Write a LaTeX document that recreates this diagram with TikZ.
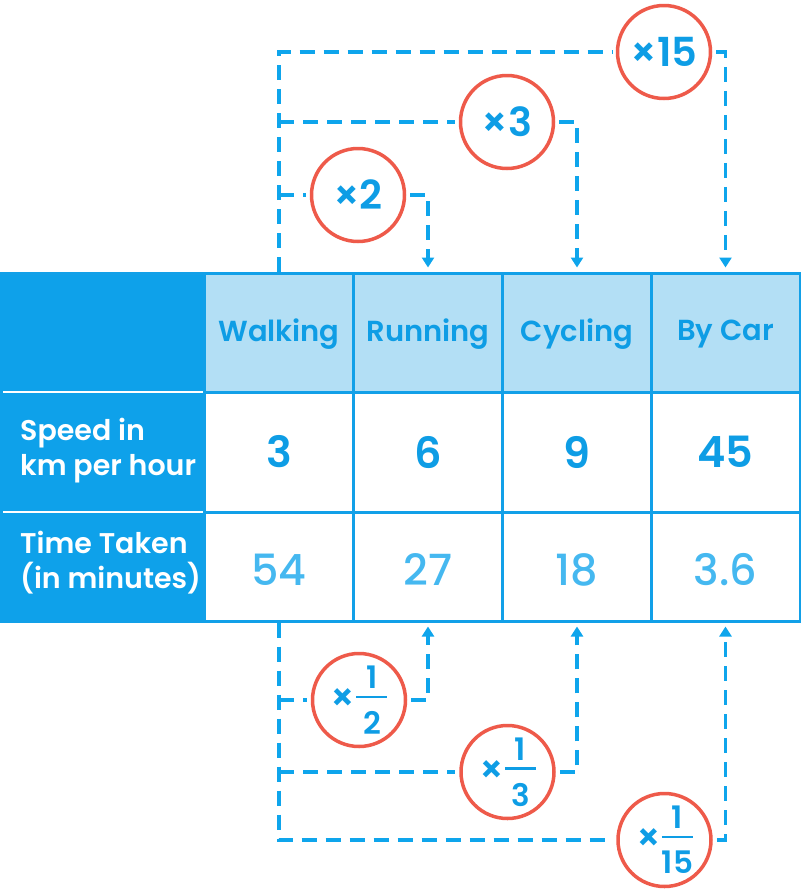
\documentclass[tikz,border=0pt]{standalone}
\usepackage{fontspec}
\setmainfont{Poppins}[BoldFont={* SemiBold}]
\newfontfamily\medfont{Poppins Medium}
\usetikzlibrary{arrows.meta}
\definecolor{darkcol}{HTML}{0EA1EA}
\definecolor{headfill}{HTML}{B3DFF5}
\definecolor{gridblue}{HTML}{12A0E8}
\definecolor{dashblue}{HTML}{0EA5EC}
\definecolor{numblue}{HTML}{0E9DE5}
\definecolor{timeblue}{HTML}{45B8F0}
\definecolor{circred}{HTML}{EE5A4A}
\newcommand\myfr[2]{$\vcenter{\offinterlineskip\halign{\hbox to 31pt{\hfil##\hfil}\cr\rule{0pt}{22pt}#1\cr\noalign{\kern7pt{\color{numblue}\hrule height 2.5pt}\kern13pt}\rule{0pt}{21pt}#2\cr}}$}
\newcommand\mysm{$\vcenter{\hbox{\fontsize{37}{37}\selectfont ×}}$\kern1pt}
\newcommand\shiftdn[2]{\raisebox{-#1}[\height][\depth]{#2}}
\begin{document}
\begin{tikzpicture}[x=1pt,y=-1pt,
  cellH/.style={draw=gridblue,line width=3pt,fill=headfill,minimum width=149pt,minimum height=119pt,inner sep=0pt,text=numblue,font=\bfseries\fontsize{29}{29}\selectfont},
  cellS/.style={draw=gridblue,line width=3pt,minimum width=149pt,minimum height=120pt,inner sep=0pt,text=numblue,font=\bfseries\fontsize{43}{43}\selectfont},
  cellT/.style={draw=gridblue,line width=3pt,minimum width=149pt,minimum height=109pt,inner sep=0pt,text=timeblue,font=\medfont\fontsize{43}{43}\selectfont},
  rowlabel/.style={anchor=west,inner sep=0pt,text=white,align=left,font=\bfseries\fontsize{28.5}{35}\selectfont},
  circ/.style={circle,draw=circred,line width=3.5pt,minimum size=93pt,inner sep=0pt,text=numblue,font=\bfseries\fontsize{40}{40}\selectfont},
  fcirc/.style={circ,font=\bfseries\fontsize{31}{31}\selectfont},
  dashline/.style={draw=dashblue,line width=3.3pt,dash pattern=on 15pt off 9pt},
  arr/.style={-{Triangle[width=12pt,length=10pt]},shorten >=4pt},
  gap/.style={shorten <=4pt}
]
\useasboundingbox (0,0) rectangle (801,895);
% left dark column
\fill[darkcol] (0,273) rectangle (205,621);
\draw[gridblue,line width=3pt] (0,273) -- (205,273);
\draw[gridblue,line width=3pt] (0,621) -- (205,621);
\draw[white,line width=2.5pt] (3,392) -- (203,392);
\draw[white,line width=2.5pt] (3,512) -- (203,512);
\node[rowlabel] (speedL) at (20,451) {Speed in\\km per hour};
\node[rowlabel] (timeL) at (20,563) {Time Taken\\(in minutes)};
% header row
\node[cellH] (walkH) at (279,332.5) {\shiftdn{2pt}{Walking}};
\node[cellH] (runH) at (428,332.5) {\shiftdn{2pt}{Running}};
\node[cellH] (cycH) at (577,332.5) {\shiftdn{2pt}{Cycling}};
\node[cellH] (carH) at (725.5,332.5) {\shiftdn{2pt}{By Car}};
% speed row
\node[cellS] (walkS) at (279,452) {3};
\node[cellS] (runS) at (428,452) {6};
\node[cellS] (cycS) at (577,452) {9};
\node[cellS] (carS) at (725.5,452) {45};
% time row
\node[cellT] (walkT) at (279,566.5) {\shiftdn{3pt}{54}};
\node[cellT] (runT) at (428,566.5) {\shiftdn{3pt}{27}};
\node[cellT] (cycT) at (577,566.5) {\shiftdn{3pt}{18}};
\node[cellT] (carT) at (725.5,566.5) {\shiftdn{3pt}{3.6}};
% top multipliers
\node[circ] (m2) at (358,195) {×2};
\node[circ] (m3) at (507,122) {×3};
\node[circ] (m15) at (664,52) {×15};
\draw[dashline] (walkH.north) |- ([xshift=-4pt]m15.west);
\draw[dashline,arr,gap] (m15.east) -| (carH.north);
\draw[dashline] (walkH.north |- m3.west) -- ([xshift=-4pt]m3.west);
\draw[dashline,arr,gap] (m3.east) -| (cycH.north);
\draw[dashline] (walkH.north |- m2.west) -- ([xshift=-4pt]m2.west);
\draw[dashline,arr,gap] (m2.east) -| (runH.north);
% bottom multipliers
\node[fcirc] (f2) at (359,700) {\mysm\myfr{1}{2}};
\node[fcirc] (f3) at (507.5,772) {\mysm\myfr{1}{3}};
\node[fcirc] (f15) at (664.5,840) {\mysm\myfr{1}{15}};
\draw[dashline] (walkT.south) |- ([xshift=-4pt]f15.west);
\draw[dashline,arr,gap] (f15.east) -| (carT.south);
\draw[dashline] (walkT.south |- f3.west) -- ([xshift=-4pt]f3.west);
\draw[dashline,arr,gap] (f3.east) -| (cycT.south);
\draw[dashline] (walkT.south |- f2.west) -- ([xshift=-4pt]f2.west);
\draw[dashline,arr,gap] (f2.east) -| (runT.south);
\end{tikzpicture}
\end{document}
